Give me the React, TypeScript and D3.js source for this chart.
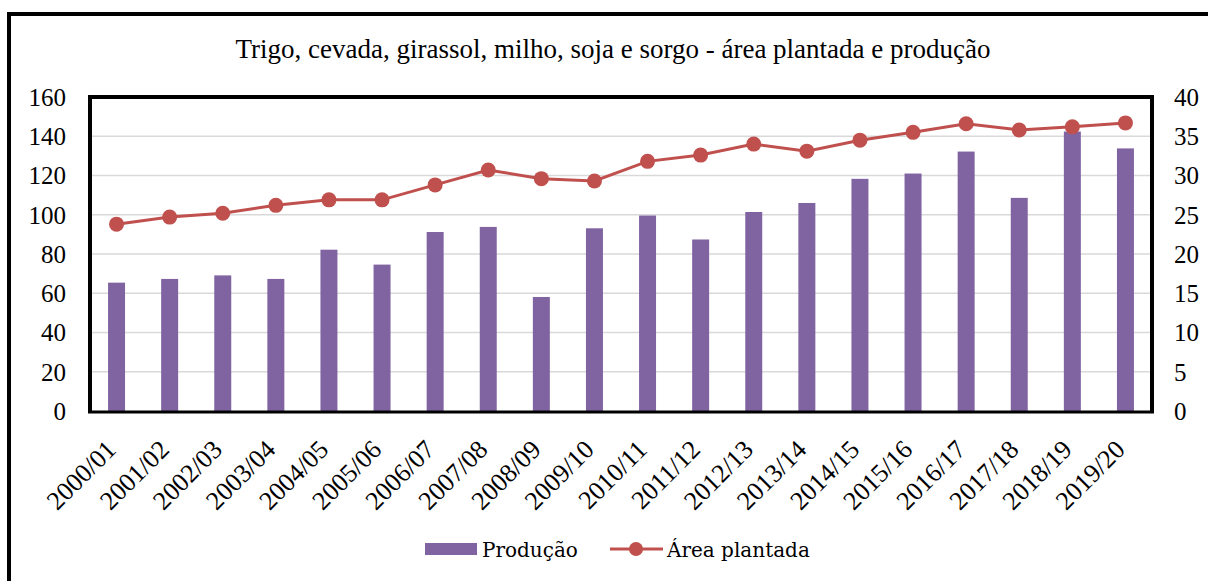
import React from 'react';
import * as d3 from 'd3';

const safras = [
  '2000/01', '2001/02', '2002/03', '2003/04', '2004/05', '2005/06', '2006/07',
  '2007/08', '2008/09', '2009/10', '2010/11', '2011/12', '2012/13', '2013/14',
  '2014/15', '2015/16', '2016/17', '2017/18', '2018/19', '2019/20',
];
const producao = [65.4, 67.3, 69.1, 67.3, 82.2, 74.6, 91.2, 93.8, 58.1, 93.1, 99.6, 87.4, 101.4, 106, 118.3, 121, 132.2, 108.6, 142.4, 133.8];
const areaPlantada = [23.8, 24.7, 25.2, 26.2, 26.9, 26.9, 28.8, 30.7, 29.6, 29.3, 31.8, 32.6, 34.0, 33.1, 34.5, 35.5, 36.6, 35.8, 36.2, 36.7];
const leftTicks = [0, 20, 40, 60, 80, 100, 120, 140, 160];
const rightTicks = [0, 5, 10, 15, 20, 25, 30, 35, 40];

const titulo = 'Trigo, cevada, girassol, milho, soja e sorgo - área plantada e produção';

const W = 1208;
const H = 581;
const plot = { left: 90, right: 1152, top: 97, bottom: 411 };
const serif = '"Liberation Serif", "Times New Roman", serif';
const legendFont = '"DejaVu Serif", serif';
const barColor = '#8064A2';
const lineColor = '#C0504D';

export default function App() {
  const x = d3
    .scaleBand<string>()
    .domain(safras)
    .range([plot.left, plot.right])
    .paddingInner(0.68)
    .paddingOuter(0.34);
  const yL = d3.scaleLinear().domain([0, 160]).range([plot.bottom, plot.top]);
  const yR = d3.scaleLinear().domain([0, 40]).range([plot.bottom, plot.top]);
  const cx = (d: string) => (x(d) as number) + x.bandwidth() / 2;

  const line = d3
    .line<number>()
    .x((_, i) => cx(safras[i]))
    .y((d) => yR(d));

  return (
    <svg
      width={W}
      height={H}
      style={{ position: 'absolute', left: 0, top: 0, background: '#fff' }}
    >
      <rect x={9} y={14} width={1260} height={640} fill="none" stroke="#000" strokeWidth={4} />

      <text x={613} y={58} textAnchor="middle" fontFamily={serif} fontSize={27} fill="#000">
        {titulo}
      </text>

      {/* grid */}
      {leftTicks.slice(1, -1).map((t) => (
        <line key={t} x1={plot.left} x2={plot.right} y1={yL(t)} y2={yL(t)} stroke="#d9d9d9" strokeWidth={1.5} />
      ))}

      {/* bars */}
      {producao.map((v, i) => (
        <rect
          key={safras[i]}
          x={x(safras[i])}
          y={yL(v)}
          width={x.bandwidth()}
          height={yL(0) - yL(v)}
          fill={barColor}
        />
      ))}

      {/* line */}
      <path d={line(areaPlantada) || ''} fill="none" stroke={lineColor} strokeWidth={3} />
      {areaPlantada.map((v, i) => (
        <circle key={safras[i]} cx={cx(safras[i])} cy={yR(v)} r={7.5} fill={lineColor} />
      ))}

      {/* plot frame */}
      <path
        d={`M${plot.left},${plot.bottom + 1} V${plot.top} H${plot.right} V${plot.bottom + 1}`}
        fill="none"
        stroke="#000"
        strokeWidth={4}
      />
      <line x1={plot.left - 2} x2={plot.right + 2} y1={plot.bottom + 1} y2={plot.bottom + 1} stroke="#000" strokeWidth={3} />

      {/* left axis labels */}
      {leftTicks.map((t) => (
        <text key={t} x={66} y={yL(t)} dy="0.35em" textAnchor="end" fontFamily={serif} fontSize={25} fill="#000">
          {t}
        </text>
      ))}
      {/* right axis labels */}
      {rightTicks.map((t) => (
        <text key={t} x={1174} y={yR(t)} dy="0.35em" textAnchor="start" fontFamily={serif} fontSize={25} fill="#000">
          {t}
        </text>
      ))}

      {/* x labels */}
      {safras.map((s) => (
        <text
          key={s}
          transform={`translate(${cx(s) + 1},${451}) rotate(-45)`}
          textAnchor="end"
          fontFamily={serif}
          fontSize={26}
          fill="#000"
        >
          {s}
        </text>
      ))}

      {/* legend */}
      <rect x={425} y={543} width={52} height={12} fill={barColor} />
      <text x={482} y={557} fontFamily={legendFont} fontSize={20} fill="#000">
        Produção
      </text>
      <line x1={610} x2={663} y1={549} y2={549} stroke={lineColor} strokeWidth={3} />
      <circle cx={636} cy={549} r={7} fill={lineColor} />
      <text x={667} y={557} fontFamily={legendFont} fontSize={20} fill="#000">
        Área plantada
      </text>
    </svg>
  );
}
